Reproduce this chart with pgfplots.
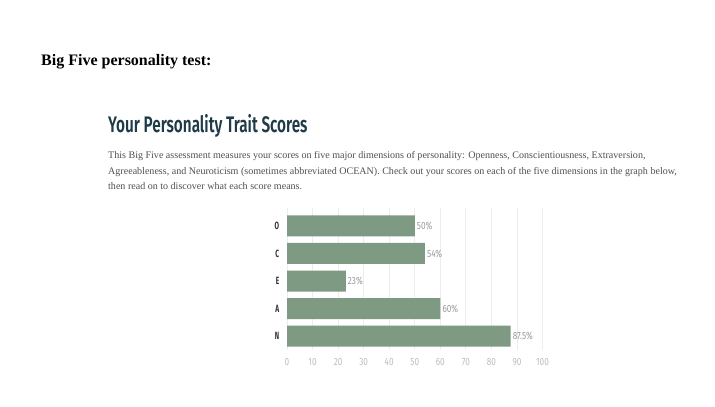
\documentclass[border=0pt]{standalone}
\usepackage{pgfplots}
\pgfplotsset{compat=1.18}
\usepackage{fontspec}
\setmainfont{Liberation Serif}
\newfontfamily\condl[FakeStretch=0.78]{Fira Sans}
\newfontfamily\condb[FakeStretch=0.68]{Fira Sans SemiBold}
\newfontfamily\condy[FakeStretch=0.62]{Fira Sans Bold}
\definecolor{barc}{HTML}{7F9A82}
\definecolor{titc}{HTML}{1F3B47}
\definecolor{bodyc}{HTML}{505050}
\definecolor{tickc}{HTML}{BDBDBD}
\definecolor{lblc}{HTML}{9A9A9A}
\definecolor{gridc}{HTML}{EDEDED}
\begin{document}
\begin{tikzpicture}
\path[use as bounding box, fill=white] (0pt,0pt) rectangle (715pt,407pt);
\node[anchor=base west, inner sep=0, font=\fontsize{16}{18}\selectfont\bfseries] at (41pt,341pt) {Big Five personality test:};
\node[anchor=base west, inner sep=0, text=titc, font=\fontsize{22.5}{24}\selectfont\condb] at (108pt,274pt) {Your Personality Trait Scores};
\begin{scope}[every node/.style={anchor=base west, inner sep=0, text=bodyc, font=\fontsize{10.05}{11}\selectfont}]
\node at (108pt,248pt) {This Big Five assessment measures your scores on five major dimensions of personality: Openness, Conscientiousness, Extraversion,};
\node at (108pt,232pt) {Agreeableness, and Neuroticism (sometimes abbreviated OCEAN). Check out your scores on each of the five dimensions in the graph below,};
\node at (108pt,217pt) {then read on to discover what each score means.};
\end{scope}
\begin{axis}[
  at={(287pt,57pt)}, anchor=south west,
  scale only axis, width=255.5pt, height=142pt,
  xbar, xmin=0, xmax=100, ymin=-0.65, ymax=4.5, y dir=reverse,
  bar width=21pt,
  axis line style={draw=none}, tick style={draw=none},
  xmajorgrids, grid style={gridc, line width=0.8pt},
  xtick={0,10,...,100},
  ytick={0,1,2,3,4}, yticklabels={O,C,E,A,N},
  xticklabel style={text=tickc, font=\fontsize{10.5}{11}\selectfont\condl, yshift=-5pt},
  yticklabel style={text=black!80, font=\fontsize{10.5}{11}\selectfont\condy},
  /pgf/number format/assume math mode=true,
  nodes near coords={\pgfmathprintnumber{\pgfplotspointmeta}\%},
  nodes near coords style={text=lblc, font=\fontsize{10.5}{11}\selectfont\condl, inner sep=2pt},
  point meta=x,
]
\addplot[fill=barc, draw=none] coordinates {(50,0) (54,1) (23,2) (60,3) (87.5,4)};
\end{axis}
\end{tikzpicture}
\end{document}
